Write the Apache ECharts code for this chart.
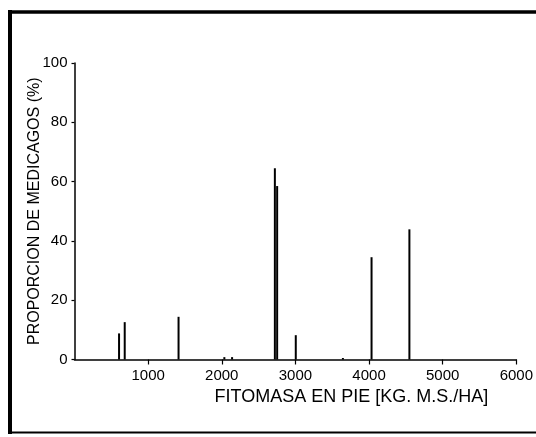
<!DOCTYPE html>
<html>
<head>
<meta charset="utf-8">
<script src="https://cdn.jsdelivr.net/npm/echarts@6/dist/echarts.min.js"></script>
<style>
  html, body { margin: 0; padding: 0; background: #fff; }
  #main { width: 536px; height: 437px; }
</style>
</head>
<body>
<div id="main"></div>
<script>
// fitomasa (kg m.s./ha) and proporcion de medicagos (%)
var fitomasa = [605, 682, 1413, 2035, 2140, 2721, 2752, 3005, 3645, 4034, 4548];
var proporcion = [8.8, 12.6, 14.4, 0.8, 0.8, 64.5, 58.5, 8.2, 0.5, 34.5, 43.9];
var yTicks = [0, 20, 40, 60, 80, 100];
var xTicks = [1000, 2000, 3000, 4000, 5000, 6000];

var font = 'Liberation Sans';
var ink = '#000';

var points = fitomasa.map(function (x, i) { return [x, proporcion[i]]; });

var myChart = echarts.init(document.getElementById('main'));
myChart.setOption({
  animation: false,
  backgroundColor: '#fff',
  grid: { left: 74.5, right: 18, top: 63, bottom: 77.5 },
  xAxis: {
    type: 'value',
    min: 0,
    max: xTicks[xTicks.length - 1],
    interval: 1000,
    splitLine: { show: false },
    axisLine: { lineStyle: { color: ink, width: 1.5 } },
    axisTick: { length: 5, lineStyle: { color: ink, width: 1.2 } },
    axisLabel: {
      showMinLabel: false,
      margin: 9,
      color: ink,
      fontFamily: font,
      fontSize: 15,
      formatter: function (v) { return String(v); }
    },
    name: 'FITOMASA EN PIE [KG. M.S./HA]',
    nameLocation: 'middle',
    nameGap: 22,
    nameTextStyle: {
      color: ink,
      fontFamily: font,
      fontSize: 18,
      padding: [0, 0, 0, 112]
    }
  },
  yAxis: {
    type: 'value',
    min: yTicks[0],
    max: yTicks[yTicks.length - 1],
    interval: 20,
    splitLine: { show: false },
    axisLine: { show: true, lineStyle: { color: ink, width: 1.5 } },
    axisTick: { show: true, length: 3, lineStyle: { color: ink, width: 1.2 } },
    axisLabel: {
      margin: 7,
      color: ink,
      fontFamily: font,
      fontSize: 15,
      formatter: function (v) { return String(v); }
    },
    name: 'PROPORCION DE MEDICAGOS (%)',
    nameLocation: 'middle',
    nameGap: 32,
    nameMoveOverlap: false,
    nameTextStyle: {
      color: ink,
      fontFamily: font,
      fontSize: 16
    }
  },
  series: [{
    type: 'bar',
    data: points,
    barWidth: 2,
    itemStyle: { color: ink }
  }],
  graphic: [
    // marco de la figura
    { type: 'line', shape: { x1: 10, y1: 10, x2: 10, y2: 434 }, style: { stroke: ink, lineWidth: 4 } },
    { type: 'line', shape: { x1: 8, y1: 12, x2: 536, y2: 12 }, style: { stroke: ink, lineWidth: 3.5 } },
    { type: 'line', shape: { x1: 8, y1: 432.5, x2: 536, y2: 432.5 }, style: { stroke: ink, lineWidth: 2 } }
  ]
});
</script>
</body>
</html>
